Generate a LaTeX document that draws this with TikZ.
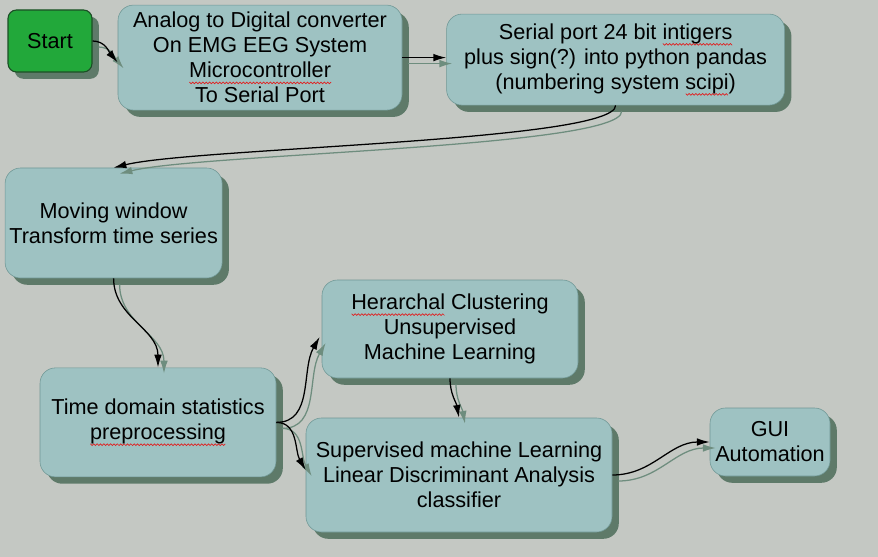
\documentclass[tikz,border=0pt]{standalone}
\usepackage{fontspec}
\setmainfont{Liberation Sans}
\usepackage{tikz}
\usetikzlibrary{arrows.meta,calc,shadows}
\definecolor{paper}{HTML}{C4C8C3}
\definecolor{boxfill}{HTML}{9EC2C2}
\definecolor{boxedge}{HTML}{6F9795}
\definecolor{boxshade}{HTML}{5E7A69}
\definecolor{startfill}{HTML}{22A83A}
\definecolor{startedge}{HTML}{1B4F25}
\definecolor{wirecol}{HTML}{6E8D7E}
\definecolor{spellred}{HTML}{E02020}
\newcount\wavestep
\newdimen\wavex
\newcommand\flowfont{\fontsize{15.4}{17.8}\selectfont}
% red wavy spell-check mark under a word
\newcommand\spellerr[1]{\setbox0\hbox{#1}\leavevmode\rlap{\begin{pgfpicture}\pgfsetbaseline{0pt}%
  \pgfsetcornersarced{\pgfpointorigin}\pgfsetcolor{spellred}\pgfsetlinewidth{0.5pt}\wavex=0pt\wavestep=0
  \pgfpathmoveto{\pgfpoint{0pt}{-3pt}}%
  \loop\advance\wavex by 1.2pt\advance\wavestep by 1
  \ifdim\wavex<\wd0 \ifodd\wavestep\pgfpathlineto{\pgfpoint{\wavex}{-4.2pt}}\else\pgfpathlineto{\pgfpoint{\wavex}{-3pt}}\fi\repeat
  \pgfusepath{stroke}\end{pgfpicture}}\box0\relax}
\tikzset{
  flowbox/.style={draw=boxedge, fill=boxfill, rounded corners=11pt, align=center, font=\flowfont, inner sep=3pt,
    drop shadow={shadow xshift=1.7mm, shadow yshift=-1.7mm, fill=boxshade, opacity=1}},
  startbox/.style={flowbox, fill=startfill, draw=startedge, line width=0.8pt, rounded corners=6pt},
  wire/.style={-{Latex[length=3.2mm,width=1.9mm]}, line width=0.9pt},
  wireshade/.style={wire, draw=wirecol, transform canvas={shift={(1.5mm,-1.5mm)}}}
}
\begin{document}
\begin{tikzpicture}
\path[use as bounding box, fill=paper] (0,0) rectangle (21.95,-13.925);
% boxes
\node[startbox, minimum width=2.1cm, minimum height=1.55cm] (start) at (1.25,-1.025) {Start};
\node[flowbox, minimum width=7.1cm, minimum height=2.625cm] (adc) at (6.5,-1.44) {Analog to Digital converter\\On EMG EEG System\\\spellerr{Microcontroller}\\To Serial Port};
\node[flowbox, minimum width=8.45cm, minimum height=2.275cm] (serial) at (15.39,-1.49) {Serial port 24 bit \spellerr{intigers}\\plus sign(?) into python pandas\\(numbering system \spellerr{scipi})};
\node[flowbox, minimum width=5.425cm, minimum height=2.75cm] (moving) at (2.84,-5.575) {Moving window\\Transform time series};
\node[flowbox, minimum width=5.9cm, minimum height=2.725cm] (timedom) at (3.95,-10.56) {Time domain statistics\\\spellerr{preprocessing}};
\node[flowbox, minimum width=6.4cm, minimum height=2.45cm] (herarch) at (11.25,-8.225) {\spellerr{Herarchal} Clustering\\Unsupervised\\Machine Learning};
\node[flowbox, minimum width=7.65cm, minimum height=2.85cm] (superv) at (11.475,-11.875) {Supervised machine Learning\\Linear Discriminant Analysis\\classifier};
\node[flowbox, minimum width=3.0cm, minimum height=1.7cm] (gui) at (19.25,-11.05) {GUI\\Automation};
% connector shadows
\draw[wireshade] (start.east) to[out=0,in=130] ($(adc.west)+(0,-0.12)$);
\draw[wireshade] (adc.east) -- (adc.east -| serial.west);
\draw[wireshade] (serial.south) .. controls +(0,-0.9) and +(2.0,0.5) .. (moving.north);
\draw[wireshade] (moving.south) to[out=-90,in=90] (timedom.north);
\draw[wireshade] (timedom.east) to[out=0,in=240] ($(herarch.west)+(-0.05,-0.2)$);
\draw[wireshade] (timedom.east) to[out=0,in=120] ($(superv.west)+(0,0.12)$);
\draw[wireshade] (herarch.south) to[out=-90,in=100] (superv.north);
\draw[wireshade] (superv.east) to[out=0,in=180] (gui.west);
% connectors
\draw[wire] (start.east) to[out=0,in=130] ($(adc.west)+(0,-0.12)$);
\draw[wire] (adc.east) -- (adc.east -| serial.west);
\draw[wire] (serial.south) .. controls +(0,-0.9) and +(2.0,0.5) .. (moving.north);
\draw[wire] (moving.south) to[out=-90,in=90] (timedom.north);
\draw[wire] (timedom.east) to[out=0,in=240] ($(herarch.west)+(-0.05,-0.2)$);
\draw[wire] (timedom.east) to[out=0,in=120] ($(superv.west)+(0,0.12)$);
\draw[wire] (herarch.south) to[out=-90,in=100] (superv.north);
\draw[wire] (superv.east) to[out=0,in=180] (gui.west);
\end{tikzpicture}
\end{document}
